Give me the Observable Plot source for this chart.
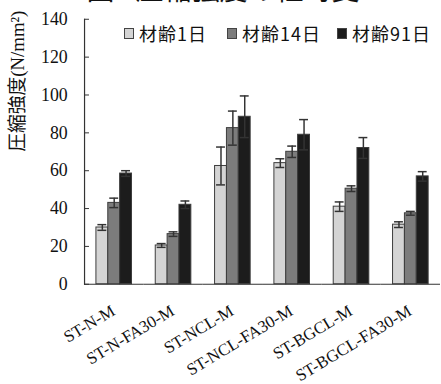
<!DOCTYPE html>
<html>
<head>
<meta charset="utf-8">
<script src="https://cdn.jsdelivr.net/npm/d3@7"></script>
<script src="https://cdn.jsdelivr.net/npm/@observablehq/plot@0.6"></script>
<style>
  html, body { margin: 0; padding: 0; background: #fff; overflow: hidden; }
  #wrap { position: relative; width: 441px; height: 384px; overflow: hidden; }
  #title {
    position: absolute; left: 0; width: 446px; top: -23px;
    text-align: center; font: 28px/28px "Times New Roman", "Liberation Serif", "Noto Sans CJK JP", serif;
    color: #111; white-space: pre; z-index: 2;
  }
  #legend {
    position: absolute; left: 0; top: 23px; width: 441px; height: 20px;
    font: 18px/20px "Noto Sans CJK JP", sans-serif; letter-spacing: 1px; color: #111; z-index: 2;
  }
  #legend .item { position: absolute; top: 0; display: flex; align-items: center; gap: 5px; white-space: nowrap; }
  #legend .item:nth-child(1) { left: 124px; }
  #legend .item:nth-child(2) { left: 227px; }
  #legend .item:nth-child(3) { left: 337px; }
  #legend .sw { width: 8px; height: 9px; border: 1px solid #444; }
  #chart { position: absolute; left: 0; top: 0; }
  #chart svg text { font-family: "Times New Roman", "Liberation Serif", "Noto Sans CJK JP", serif; }
</style>
</head>
<body>
<div id="wrap">
  <div id="title"></div>
  <div id="legend"></div>
  <div id="chart"></div>
</div>
<script>
// Compressive strength of mortar specimens at three curing ages (N/mm²)
const categories = ["ST-N-M", "ST-N-FA30-M", "ST-NCL-M", "ST-NCL-FA30-M", "ST-BGCL-M", "ST-BGCL-FA30-M"];
const series = ["材齢1日", "材齢14日", "材齢91日"];
const day1 = [30, 20.5, 62.5, 64, 41, 31.5];
const day14 = [43, 26.5, 82.5, 70, 50.5, 37.5];
const day91 = [58.5, 42, 88.5, 79, 72, 57];
const err1 = [1.5, 1, 10, 2.3, 2.5, 1.5];
const err14 = [2.5, 1.2, 9, 3, 1.5, 1];
const err91 = [1.5, 2, 11, 8, 5.5, 2.5];
const colors = ["#d4d4d4", "#7c7c7c", "#1c1c1c"];
const yTicks = [0, 20, 40, 60, 80, 100, 120, 140];
const yLabel = "圧縮強度(N/mm²)";
const titleText = "図4 圧縮強度の経時変";

const values = [day1, day14, day91];
const errors = [err1, err14, err91];
const rows = categories.flatMap((c, i) =>
  series.map((s, j) => ({category: c, series: s, value: values[j][i], err: errors[j][i]}))
);

document.getElementById("title").textContent = titleText;

const legend = document.getElementById("legend");
series.forEach((s, j) => {
  const item = document.createElement("div");
  item.className = "item";
  const sw = document.createElement("span");
  sw.className = "sw";
  sw.style.background = colors[j];
  const label = document.createElement("span");
  label.textContent = s;
  item.append(sw, label);
  legend.append(item);
});

const serif = "'Times New Roman', 'Liberation Serif', 'Noto Sans CJK JP', serif";

const chart = Plot.plot({
  width: 446,
  height: 384,
  marginLeft: 84,
  marginRight: 1,
  marginTop: 19,
  marginBottom: 97,
  style: {fontFamily: serif, fontSize: "18px", color: "#111", background: "transparent", overflow: "visible"},
  fx: {domain: categories, padding: 0, axis: null},
  x: {domain: series, paddingInner: 0, paddingOuter: 1, axis: null},
  y: {domain: [0, 140], axis: null},
  color: {domain: series, range: colors},
  marks: [
    Plot.barY(rows, {fx: "category", x: "series", y: "value", fill: "series", stroke: "#3c3c3c", strokeWidth: 1}),
    Plot.ruleX(rows, {fx: "category", x: "series", y1: d => d.value - d.err, y2: d => d.value + d.err, stroke: "#333", strokeWidth: 1.5}),
    Plot.tickY(rows, {fx: "category", x: "series", y: d => d.value + d.err, insetLeft: 1.5, insetRight: 1.5, stroke: "#333", strokeWidth: 1.5}),
    Plot.tickY(rows, {fx: "category", x: "series", y: d => d.value - d.err, insetLeft: 1.5, insetRight: 1.5, stroke: "#333", strokeWidth: 1.5}),
    Plot.ruleY([0], {stroke: "#333", strokeWidth: 1.2}),
    Plot.frame({anchor: "left", facetAnchor: "left", stroke: "#333", strokeWidth: 1.2}),
    Plot.axisY({ticks: yTicks, tickSize: 0, tickPadding: 17, label: null, fontSize: 18, fontFamily: serif}),
    Plot.axisY({ticks: yTicks, tickSize: 5, dx: 5, fill: "none", label: null, stroke: "#333"}),
    Plot.text([yLabel], {x: null, y: null, text: d => d, frameAnchor: "left", facetAnchor: "left", rotate: -90, dx: -67, fontSize: 19, fontFamily: serif}),
    Plot.text(categories, {fx: d => d, x: null, y: null, text: d => d, frameAnchor: "bottom", rotate: -31, textAnchor: "end", lineAnchor: "bottom", dx: 2, dy: 30, fontSize: 17, fontFamily: serif})
  ]
});
document.getElementById("chart").append(chart);
</script>
</body>
</html>
